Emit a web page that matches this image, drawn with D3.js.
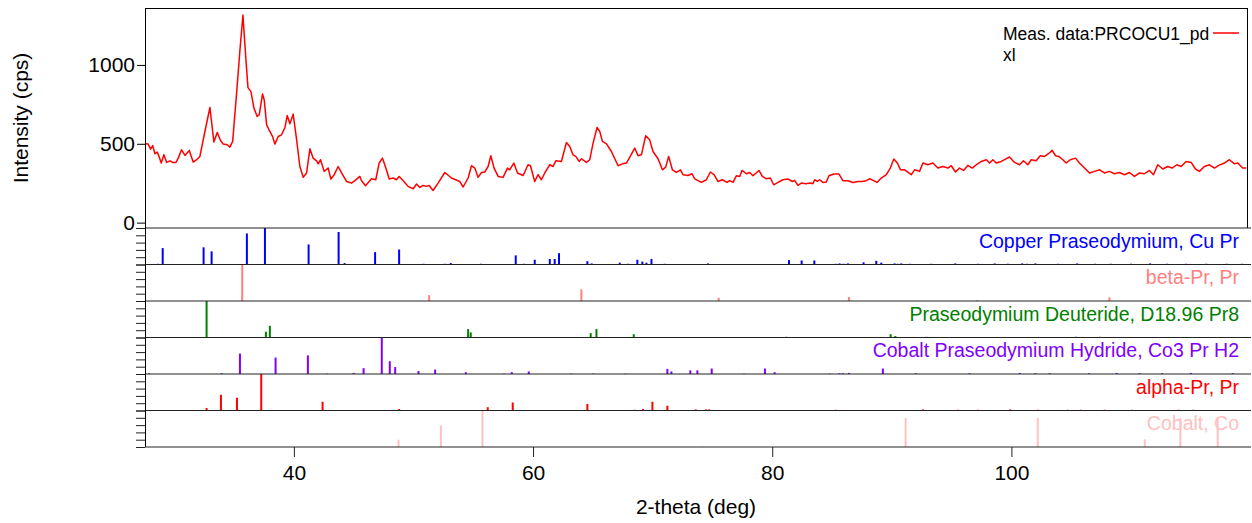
<!DOCTYPE html>
<html>
<head>
<meta charset="utf-8">
<script src="https://d3js.org/d3.v7.min.js"></script>
<style>
  body { margin: 0; background: #fff; }
  svg { display: block; }
  text { font-family: "Liberation Sans", Arial, sans-serif; }
</style>
</head>
<body>
<svg id="chart" width="1252" height="523"></svg>
<script>
// measured pattern (2-theta in deg, intensity in cps)
const twoTheta = [27.55,27.82,28.02,28.19,28.38,28.57,28.72,28.91,29.13,29.36,29.64,29.86,30.14,30.33,30.61,30.89,31.25,31.58,31.87,32.14,
  32.56,32.98,33.31,33.59,33.87,34.09,34.43,34.65,34.88,35.21,35.49,35.74,35.99,36.16,36.41,36.66,36.93,37.10,37.38,37.52,
  37.72,37.99,38.22,38.41,38.69,38.97,39.25,39.44,39.67,39.94,40.23,40.50,40.78,41.06,41.34,41.61,41.90,42.03,42.23,42.53,
  42.87,43.09,43.37,43.70,43.99,44.40,44.82,45.10,45.52,45.66,45.99,46.49,46.85,47.13,47.41,47.69,47.97,48.30,48.58,48.80,
  49.14,49.55,49.97,50.26,50.53,50.81,51.09,51.31,51.64,52.06,52.62,53.18,53.87,54.15,54.57,54.85,55.13,55.40,55.69,55.96,
  56.24,56.47,56.74,57.08,57.49,57.86,58.05,58.39,58.70,59.17,59.58,59.78,60.14,60.42,60.70,60.98,61.40,61.67,61.90,62.37,
  62.79,63.07,63.34,63.57,63.85,64.05,64.46,64.74,65.02,65.35,65.58,65.80,66.14,66.55,67.11,67.47,67.81,68.17,68.50,68.78,
  69.06,69.42,69.75,70.03,70.45,70.82,71.09,71.34,71.65,71.99,72.32,72.54,72.96,73.29,73.52,74.08,74.49,74.83,75.13,75.46,
  75.83,76.22,76.44,76.72,77.00,77.28,77.47,77.84,78.11,78.39,78.89,79.17,79.51,79.84,80.12,80.48,80.90,81.31,81.68,81.87,
  82.15,82.43,82.79,83.19,83.40,83.55,83.77,83.96,84.24,84.52,84.74,85.16,85.58,85.91,86.33,86.75,87.16,87.53,87.87,88.14,
  88.48,88.75,89.12,89.54,89.87,90.17,90.46,90.73,91.07,91.63,91.90,92.32,92.60,93.01,93.43,93.85,94.27,94.69,94.97,95.33,
  95.66,96.00,96.36,96.73,97.06,97.48,97.90,98.17,98.45,98.73,99.15,99.51,99.84,100.26,100.68,101.01,101.37,101.66,102.07,102.41,
  102.77,103.10,103.41,103.69,103.96,104.30,104.58,104.92,105.36,105.69,106.11,106.53,106.95,107.37,107.78,108.20,108.62,109.04,109.45,109.87,
  110.29,110.71,111.13,111.54,111.88,112.24,112.66,113.07,113.44,113.83,114.19,114.61,115.03,115.39,115.72,116.14,116.56,116.98,117.34,117.81,
  118.23,118.65,118.93,119.34,119.65];
const intensity = [500,498,466,489,437,447,420,378,430,382,392,382,382,409,462,426,458,384,399,420,
  578,730,511,572,521,498,494,479,515,821,1095,1316,1032,856,831,726,673,684,816,778,
  620,578,546,498,546,557,603,679,627,688,525,356,287,315,468,409,392,373,399,325,
  346,277,304,356,315,261,251,266,293,266,234,278,272,378,409,346,277,283,272,293,
  266,230,215,245,223,236,230,236,204,251,318,283,261,226,283,361,346,287,318,321,
  356,424,346,293,287,346,335,378,315,299,367,361,261,304,272,315,367,356,392,388,
  508,483,430,420,388,405,382,399,504,603,578,515,500,451,361,373,378,426,473,424,
  430,551,525,451,405,335,352,420,335,318,335,304,299,310,277,255,272,321,304,261,
  272,255,266,255,297,293,331,310,318,297,331,293,278,283,240,255,272,277,261,268,
  236,251,247,251,247,272,261,272,255,258,297,308,308,266,266,255,261,261,266,278,
  266,255,283,304,346,403,378,335,335,304,335,325,378,367,378,346,356,346,361,321,
  346,331,363,346,367,388,399,378,399,378,388,403,416,382,367,392,367,399,392,424,
  420,437,458,424,420,399,378,399,409,378,346,315,325,335,315,325,310,318,304,318,
  293,315,310,331,304,367,340,356,346,367,356,388,382,340,325,356,367,346,363,378,
  399,373,378,346,346];

// reference phases (stick positions in deg, relative intensity)
const phaseNames = ["Copper Praseodymium, Cu Pr", "beta-Pr, Pr", "Praseodymium Deuteride, D18.96 Pr8",
  "Cobalt Praseodymium Hydride, Co3 Pr H2", "alpha-Pr, Pr", "Cobalt, Co"];

const copperPos = [28.63,29.03,32.45,33.12,36.07,37.58,41.23,43.74,44.24,46.79,48.80,50.84,52.62,53.12,53.96,55.65,56.46,58.55,59.25,60.14,
  61.40,61.81,62.17,64.54,64.90,67.25,67.94,68.72,69.14,69.48,69.90,71.00,74.63,76.16,77.00,78.80,80.76,81.40,82.46,83.52,
  85.30,85.63,85.97,86.33,87.64,88.70,89.12,90.23,90.50,90.79,91.50,93.30,95.30,97.20,98.60,99.70,100.90,101.30,102.00,103.90,
  105.50,107.00,108.30,110.00,111.60,113.00,114.60,116.30,118.00,119.30];
const copperInt = [2,45,47,36,85,100,55,89,4,34,41,2,2,4,1,2,1,25,2,13,
  15,15,31,9,3,5,2,13,8,5,15,2,3,1,1,1,1,12,11,11,
  2,3,2,3,6,10,5,3,2,3,2,2,3,2,3,2,3,2,3,2,
  3,2,2,2,3,2,2,2,2,2];

const betaPos = [35.68,51.31,64.04,75.52,86.41,97.14,108.20];
const betaInt = [100,16,32,9,11,2,10];

const deuteridePos = [32.70,37.66,37.99,54.57,54.79,64.82,65.30,68.42,81.18,89.90,90.30,92.90,105.40,107.40];
const deuterideInt = [100,16,32,23,14,12,23,9,2,9,4,2,2,2];

const hydridePos = [27.90,33.96,35.49,38.47,41.17,42.78,44.99,45.83,47.35,48.02,48.47,50.42,51.81,54.38,57.55,58.22,59.64,63.20,65.02,67.72,
  71.23,71.57,73.15,73.74,74.94,77.64,79.39,80.20,84.80,85.63,85.91,86.41,89.25,92.00,96.50,100.70,102.00,103.20,106.50,108.80,
  110.70,112.60,115.00,118.50];
const hydrideInt = [2,2,56,45,51,1,3,16,100,35,19,8,12,5,1,5,7,1,1,1,
  14,7,10,10,15,1,15,5,1,2,2,3,15,2,2,3,2,2,2,3,
  2,2,3,2];

const alphaPos = [32.70,33.90,35.24,37.27,42.40,48.80,56.21,58.30,61.40,64.54,68.50,69.19,69.98,71.23,73.60,74.49,74.71,79.42,83.63,85.30,
  92.60,95.50,97.20,99.90,102.20,104.70,105.80,107.80,110.10,114.00,115.20];
const alphaInt = [7,43,35,100,24,4,9,22,1,18,2,4,24,13,3,3,3,1,1,2,
  3,2,2,3,2,2,2,2,2,2,2];

const cobaltPos = [48.75,52.29,55.77,74.16,91.15,102.20,111.15,114.13,117.25];
const cobaltInt = [20,59,100,2,79,79,21,79,79];

const xTicks = [40, 60, 80, 100];
const yTicks = [0, 500, 1000];

const phases = [
  [copperPos, copperInt], [betaPos, betaInt], [deuteridePos, deuterideInt],
  [hydridePos, hydrideInt], [alphaPos, alphaInt], [cobaltPos, cobaltInt]
];
const phaseColors = ["#0000ff", "#ff8080", "#008000", "#8000ff", "#ff0000", "#ffc0c0"];

const mLeft = 145, mRight = 1247, mTop = 8, mainBottom = 228, mBottom = 447;
const panelH = (mBottom - mainBottom) / phases.length;

const svg = d3.select("#chart");

const x = d3.scaleLinear().domain([27.55, 119.7]).range([mLeft, mRight]);
const y = d3.scaleLinear().domain([-34, 1361]).range([mainBottom, mTop]);

svg.append("clipPath").attr("id", "clipMain")
  .append("rect").attr("x", mLeft).attr("y", mTop).attr("width", mRight - mLeft).attr("height", mainBottom - mTop);

// measured curve
svg.append("path")
  .datum(d3.zip(twoTheta, intensity))
  .attr("clip-path", "url(#clipMain)")
  .attr("fill", "none")
  .attr("stroke", "#ff0000")
  .attr("stroke-width", 1.5)
  .attr("stroke-linejoin", "round")
  .attr("d", d3.line().x(d => x(d[0])).y(d => y(d[1])));

// main frame
svg.append("line").attr("x1", mLeft).attr("x2", mRight).attr("y1", mTop + 0.5).attr("y2", mTop + 0.5).attr("stroke", "#000");
svg.append("line").attr("x1", mRight + 0.5).attr("x2", mRight + 0.5).attr("y1", mTop).attr("y2", mainBottom).attr("stroke", "#000");

// y axis of the measured panel
const yAxis = svg.append("g")
  .attr("transform", `translate(${mLeft},0)`)
  .call(d3.axisLeft(y).tickValues(yTicks).tickFormat(d3.format("d")).tickSize(8).tickPadding(2));
yAxis.select(".domain").remove();
yAxis.selectAll("line").attr("stroke", "#000");
yAxis.selectAll("text").attr("font-size", 21).attr("font-family", "Liberation Sans, Arial, sans-serif").attr("fill", "#000");

// stick panels
phases.forEach(([pos, inten], i) => {
  const y0 = mainBottom + i * panelH;
  const ys = d3.scaleLinear().domain([0, 100]).range([y0 + panelH, y0]);
  const g = svg.append("g");

  g.selectAll("line.stick")
    .data(d3.zip(pos, inten))
    .join("line")
    .attr("class", "stick")
    .attr("x1", d => x(d[0])).attr("x2", d => x(d[0]))
    .attr("y1", ys(0)).attr("y2", d => ys(d[1]))
    .attr("stroke", phaseColors[i])
    .attr("stroke-width", 2);

  g.append("line")
    .attr("x1", mLeft).attr("x2", 1251)
    .attr("y1", y0).attr("y2", y0)
    .attr("stroke", "#222");

  const ax = g.append("g")
    .attr("transform", `translate(${mLeft},0)`)
    .call(d3.axisLeft(ys).tickValues([0, 20, 40, 60, 80, 100]).tickFormat("").tickSize(9));
  ax.select(".domain").remove();
  ax.selectAll("line").attr("stroke", "#222");

  g.append("text")
    .attr("x", 1239).attr("y", y0 + 19.5)
    .attr("text-anchor", "end")
    .attr("font-size", 19.5)
    .attr("fill", phaseColors[i])
    .text(phaseNames[i]);
});

// left spine
svg.append("line").attr("x1", mLeft + 0.5).attr("x2", mLeft + 0.5).attr("y1", mTop).attr("y2", mBottom).attr("stroke", "#000");

// bottom axis
svg.append("line").attr("x1", mLeft).attr("x2", 1251).attr("y1", mBottom).attr("y2", mBottom).attr("stroke", "#222");
const xAxis = svg.append("g")
  .attr("transform", `translate(0,${mBottom})`)
  .call(d3.axisBottom(x).tickValues(xTicks).tickSize(10).tickPadding(8));
xAxis.select(".domain").remove();
xAxis.selectAll("line").attr("stroke", "#222");
xAxis.selectAll("text").attr("font-size", 21).attr("font-family", "Liberation Sans, Arial, sans-serif").attr("fill", "#000");

// axis titles
svg.append("text")
  .attr("transform", `translate(28,${(mTop + mainBottom) / 2}) rotate(-90)`)
  .attr("text-anchor", "middle")
  .attr("font-size", 21)
  .text("Intensity (cps)");
svg.append("text")
  .attr("x", (mLeft + mRight) / 2).attr("y", 514)
  .attr("text-anchor", "middle")
  .attr("font-size", 21)
  .text("2-theta (deg)");

// legend
svg.append("text").attr("x", 1003).attr("y", 40).attr("font-size", 17.5).text("Meas. data:PRCOCU1_pd");
svg.append("text").attr("x", 1003).attr("y", 61).attr("font-size", 17.5).text("xl");
svg.append("line").attr("x1", 1213).attr("x2", 1239).attr("y1", 33).attr("y2", 33)
  .attr("stroke", "#ff0000").attr("stroke-width", 1.5);
</script>
</body>
</html>
